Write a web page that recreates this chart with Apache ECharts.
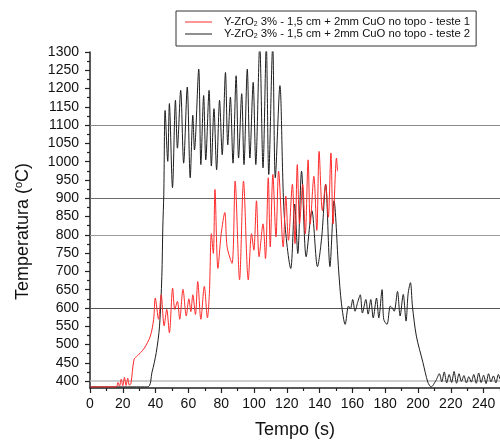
<!DOCTYPE html>
<html>
<head>
<meta charset="utf-8">
<script src="https://cdn.jsdelivr.net/npm/echarts@6/dist/echarts.min.js"></script>
<style>
html,body{margin:0;padding:0;background:#fff;}
#chart{width:500px;height:444px;}
</style>
</head>
<body>
<div id="chart"></div>
<script>
// ---- data ----
var serie1Nome = 'Y-ZrO2 3% - 1,5 cm + 2mm CuO no topo - teste 1';
var serie2Nome = 'Y-ZrO2 3% - 1,5 cm + 2mm CuO no topo - teste 2';

var teste1Tempo = [0,16,17,18,19,20,21,22,23,24,24.9,26.9,28.9,32.8,36.8,38.8,39.8,41.8,43.4,45.2,46.8,48.4,50.4,51.7,53.3,54.7,56.7,58.7,60.3,61.5,62.7,64.3,65.7,67.6,69.7,71.6,72.8,74,75.2,76.2,78,80,82.2,83.6,86.6,88.5,91.2,93.6,96.5,98.5,99.9,101.5,103.1,105.5,107,108.7,109.9,111.5,113.4,115,117.8,119.4,121,123.4,125,126.4,127.8,129.7,131.3,133,134.3,136.5,138.3,139.7,141.7,143.7,145.3,146.9,148.2,150.3,150.9];
var teste1Temp  = [384,384,396,386,405,387,410,388,408,389,392,460,469,488,523,569,627,569,636,551,596,532,654,596,618,569,651,578,625,590,636,582,672,569,659,573,640,803,749,924,708,803,861,767,722,947,677,947,677,803,758,893,740,830,735,956,767,965,794,974,767,906,785,938,776,992,830,938,803,1005,830,960,812,1028,866,938,848,1024,830,1010,974];

var teste2Tempo = [0,35,37.8,40.4,42.4,43.8,44.4,45,45.8,47.4,48.4,50.3,52.1,53.3,55.3,57.1,59.3,61.1,62.7,63.7,66.3,67.6,69.3,70.6,72.6,74,75.6,77.2,79,80.6,82.6,84,85.6,87.2,89.1,90.6,92.5,93.9,95.9,97.5,99.5,101.1,103.5,105.5,107.5,109,111.4,113,115.8,118.4,122.4,124.8,126.7,129,131.8,135.3,138.7,141.3,143.7,146.3,148.8,151.6,153.3,155.6,157.6,158.8,160.2,161.6,163.2,164.8,166.1,168.2,169.6,171.2,172.7,174.7,176.1,178.1,179.1,181.1,183.1,184.3,185.5,187.5,189.1,191,192.7,194,195.4,196.6,199,203,206,208,211,213,214.5,216,217.5,219,220.5,222,223.5,225,226.5,228,229.5,231,232.5,234,235.5,237,238.5,240,241.5,243,244.5,246,247.5,249,250];
var teste2Temp  = [384,384,424,478,550,686,821,911,1140,1001,1159,929,1168,1037,1195,996,1204,956,1127,1032,1253,992,1181,1005,1195,988,1145,978,1168,1019,1244,1046,1177,996,1235,1010,1186,992,1253,1010,1217,992,1320,983,1320,965,1320,956,1208,857,708,884,749,974,740,866,713,794,938,713,893,704,613,555,605,598,623,591,615,636,586,623,583,623,573,627,573,650,569,555,605,600,591,645,578,637,564,640,669,605,523,451,397,384,402,420,398,425,395,418,396,426,394,420,399,415,395,412,397,418,394,422,396,416,393,420,398,414,395,418,405];

var rotulosY = [400,450,500,550,600,650,700,750,800,850,900,950,1000,1050,1100,1150,1200,1250,1300];
var ticksMenoresY = [425,475,525,575,625,675,725,775,825,875,925,975,1025,1075,1125,1175,1225,1275];
var rotulosX = [0,20,40,60,80,100,120,140,160,180,200,220,240];
var ticksMenoresX = [10,30,50,70,90,110,130,150,170,190,210,230,250];
var linhasRef = [1100,900,800,600,400];
var coresRef = ['#8a8a8a','#6a6a6a','#9a9a9a','#555555','#bdbdbd'];

function pares(t, v){ var out=[]; for(var i=0;i<t.length;i++){ out.push([t[i], v[i]]); } return out; }
function semSeparador(v){ return String(v); }

var FONT = 'Liberation Sans, Arial, Helvetica, sans-serif';
var AXC = '#222';

var chart = echarts.init(document.getElementById('chart'), null, {renderer:'canvas'});
var refData = linhasRef.map(function(y,i){
  return {yAxis:y, lineStyle:{color:coresRef[i], width: (y===400?1.6:1.1), type:'solid'}};
});

chart.setOption({
  animation:false,
  backgroundColor:'#fff',
  textStyle:{fontFamily:FONT},
  grid:{left:90, top:52, right:-8.75, bottom:51.5, containLabel:false},
  legend:{
    orient:'vertical', left:176, top:11,
    backgroundColor:'#fff', borderColor:'#333', borderWidth:1, borderRadius:0,
    padding:[5,6,6,9], itemGap:0, itemWidth:27, itemHeight:1, icon:'rect',
    data:[serie1Nome, serie2Nome],
    formatter:function(name){ return name.replace('ZrO2','ZrO{sub|2}'); },
    textStyle:{fontFamily:FONT, fontSize:11.3, color:'#111', lineHeight:12, padding:[0,0,0,7],
      rich:{ sub:{fontFamily:FONT, fontSize:7, lineHeight:7, verticalAlign:'bottom', color:'#111'} } }
  },
  xAxis:[{
    type:'value', min:0, max:250, position:'bottom',
    name:'Tempo (s)', nameLocation:'middle', nameGap:33,
    nameTextStyle:{fontFamily:FONT, fontSize:18, color:'#111'},
    axisLine:{show:true, onZero:false, lineStyle:{color:AXC, width:1.5}},
    axisTick:{show:true, length:5, customValues:rotulosX, lineStyle:{color:AXC, width:1.2}},
    axisLabel:{show:true, margin:9, fontSize:14, color:'#111', fontFamily:FONT, customValues:rotulosX, formatter:semSeparador},
    splitLine:{show:false}
  },{
    type:'value', min:0, max:250, position:'bottom',
    axisLine:{show:false},
    axisTick:{show:true, length:3, customValues:ticksMenoresX, lineStyle:{color:AXC, width:1.2}},
    axisLabel:{show:false}, splitLine:{show:false}
  }],
  yAxis:[{
    type:'value', min:381, max:1300, position:'left',
    name:'Temperatura ({sup|o}C)', nameLocation:'middle', nameGap:57, nameRotate:90,
    nameTextStyle:{fontFamily:FONT, fontSize:18, color:'#111', lineHeight:20, padding:[0,23,0,0],
      rich:{ sup:{fontFamily:FONT, fontSize:11, lineHeight:11, verticalAlign:'top', color:'#111'} } },
    axisLine:{show:true, onZero:false, lineStyle:{color:AXC, width:1.5}},
    axisTick:{show:true, length:5, customValues:rotulosY, lineStyle:{color:AXC, width:1.2}},
    axisLabel:{show:true, margin:11, fontSize:14, color:'#111', fontFamily:FONT, customValues:rotulosY, formatter:semSeparador},
    splitLine:{show:false}
  },{
    type:'value', min:381, max:1300, position:'left',
    axisLine:{show:false},
    axisTick:{show:true, length:3, customValues:ticksMenoresY, lineStyle:{color:AXC, width:1.2}},
    axisLabel:{show:false}, splitLine:{show:false}
  }],
  series:[{
    name:serie1Nome, type:'line', xAxisIndex:0, yAxisIndex:0,
    data:pares(teste1Tempo, teste1Temp),
    showSymbol:false, symbol:'none', smooth:0.3, clip:true, z:3,
    lineStyle:{color:'#ff2a2a', width:1},
    itemStyle:{color:'#ff2a2a'},
    markLine:{silent:true, symbol:['none','none'], label:{show:false}, animation:false, z:1, data:refData}
  },{
    name:serie2Nome, type:'line', xAxisIndex:0, yAxisIndex:0,
    data:pares(teste2Tempo, teste2Temp),
    showSymbol:false, symbol:'none', smooth:0.3, clip:true, z:2,
    lineStyle:{color:'#1e1e1e', width:1},
    itemStyle:{color:'#1e1e1e'}
  }]
});
</script>
</body>
</html>
